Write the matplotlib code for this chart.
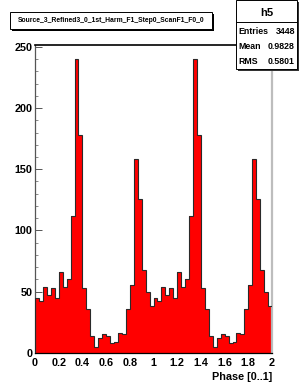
import matplotlib
matplotlib.use("Agg")
import matplotlib.pyplot as plt
import numpy as np
from matplotlib.patches import Rectangle
from matplotlib.ticker import MultipleLocator

# ---- data ----
phase_min = 0.0
phase_max = 2.0
n_bins = 60
counts = [45, 42, 54, 47, 53, 45, 66, 54, 60, 112,
          240, 178, 53, 36, 14, 5, 12, 15, 14, 8,
          9, 16, 15, 36, 55, 158, 126, 68, 50, 38,
          45, 42, 54, 47, 53, 45, 66, 54, 60, 112,
          240, 178, 53, 36, 14, 5, 12, 15, 14, 8,
          9, 16, 15, 36, 55, 158, 126, 68, 50, 38]
title_text = "Source_3_Refined3_0_1st_Harm_F1_Step0_ScanF1_F0_0"
stats_name = "h5"
stats_labels = ["Entries", "Mean", "RMS"]
stats_values = ["3448", "0.9828", "0.5801"]
x_label = "Phase [0..1]"
x_ticks = [0, 0.2, 0.4, 0.6, 0.8, 1, 1.2, 1.4, 1.6, 1.8, 2]
x_ticklabels = ["0", "0.2", "0.4", "0.6", "0.8", "1", "1.2", "1.4", "1.6", "1.8", "2"]
y_ticks = [0, 50, 100, 150, 200, 250]

W, H = 302, 388
FONT = "Liberation Sans"
plt.rcParams['font.family'] = [FONT, 'DejaVu Sans']

fig = plt.figure(figsize=(W / 100, H / 100), dpi=100)
fig.patch.set_facecolor("white")

def fx(px):
    return px / W

def fy(py):
    return 1 - py / H

ax_l, ax_r, ax_t, ax_b = 35, 272, 44.5, 352.7
ax = fig.add_axes([fx(ax_l), fy(ax_b), fx(ax_r - ax_l), (ax_b - ax_t) / H])

edges = np.linspace(phase_min, phase_max, n_bins + 1)
ax.stairs(counts, edges, fill=True, color="#ff0000", zorder=2)
ax.stairs(counts, edges, fill=False, color="#2a2a2a", linewidth=0.8, zorder=3)

ax.set_xlim(phase_min, phase_max)
ax.set_ylim(0, 252)

ax.set_xticks(x_ticks)
ax.set_xticklabels(x_ticklabels)
ax.set_yticks(y_ticks)
ax.xaxis.set_minor_locator(MultipleLocator(0.04))
ax.yaxis.set_minor_locator(MultipleLocator(10))

ax.tick_params(axis="x", which="major", direction="in", length=6.5, width=0.7,
               pad=4, labelsize=7.8, color="#222222")
ax.tick_params(axis="x", which="minor", direction="in", length=3.2, width=0.6,
               color="#222222")
ax.tick_params(axis="y", which="major", direction="in", length=5, width=0.7,
               pad=2, labelsize=7.8, color="#555555")
ax.tick_params(axis="y", which="minor", direction="in", length=2.5, width=0.6,
               color="#777777")
for lab in ax.get_xticklabels() + ax.get_yticklabels():
    lab.set_fontweight("bold")
    lab.set_family(FONT)

ax.spines["top"].set_color("black")
ax.spines["top"].set_linewidth(1.2)
ax.spines["left"].set_color("#555555")
ax.spines["left"].set_linewidth(0.9)
ax.spines["bottom"].set_color("black")
ax.spines["bottom"].set_linewidth(0.9)
ax.spines["right"].set_color("#bdbdbd")
ax.spines["right"].set_linewidth(1.6)

fig.text(fx(272), fy(377), x_label, ha="right", va="center",
         fontsize=7.8, fontweight="bold", family=FONT)

# ---- title box ----
tb_l, tb_t, tb_r, tb_b = 10, 12, 212, 29
fig.patches.append(Rectangle((fx(tb_l + 1.5), fy(tb_b + 1.5)), fx(tb_r - tb_l), (tb_b - tb_t) / H,
                             transform=fig.transFigure, facecolor="black",
                             edgecolor="none", zorder=5))
fig.patches.append(Rectangle((fx(tb_l), fy(tb_b)), fx(tb_r - tb_l), (tb_b - tb_t) / H,
                             transform=fig.transFigure, facecolor="white",
                             edgecolor="black", linewidth=0.7, zorder=6))
fig.text(fx((tb_l + tb_r) / 2), fy((tb_t + tb_b) / 2), title_text, ha="center",
         va="center", fontsize=4.85, fontweight="bold", family=FONT, zorder=7)

# ---- stats box ----
sb_l, sb_t, sb_r, sb_b = 236, 0.5, 297, 69
fig.patches.append(Rectangle((fx(sb_l + 2), fy(sb_b + 2)), fx(sb_r - sb_l), (sb_b - sb_t) / H,
                             transform=fig.transFigure, facecolor="#333333",
                             edgecolor="none", zorder=5))
fig.patches.append(Rectangle((fx(sb_l), fy(sb_b)), fx(sb_r - sb_l), (sb_b - sb_t) / H,
                             transform=fig.transFigure, facecolor="white",
                             edgecolor="black", linewidth=0.7, zorder=6))
fig.lines.append(plt.Line2D([fx(sb_l), fx(sb_r)], [fy(22), fy(22)],
                            transform=fig.transFigure, color="black",
                            linewidth=0.7, zorder=7))
fig.text(fx((sb_l + sb_r) / 2), fy(12.5), stats_name, ha="center", va="center",
         fontsize=8, fontweight="bold", family=FONT, zorder=8)
row_y = [32, 46.5, 61]
for lab, val, yy in zip(stats_labels, stats_values, row_y):
    fig.text(fx(sb_l + 2), fy(yy), lab, ha="left", va="center",
             fontsize=6.3, fontweight="bold", family=FONT, zorder=8)
    fig.text(fx(sb_r - 2), fy(yy), val, ha="right", va="center",
             fontsize=6.3, fontweight="bold", family=FONT, zorder=8)

fig.savefig("out.png", dpi=100, facecolor="white")
